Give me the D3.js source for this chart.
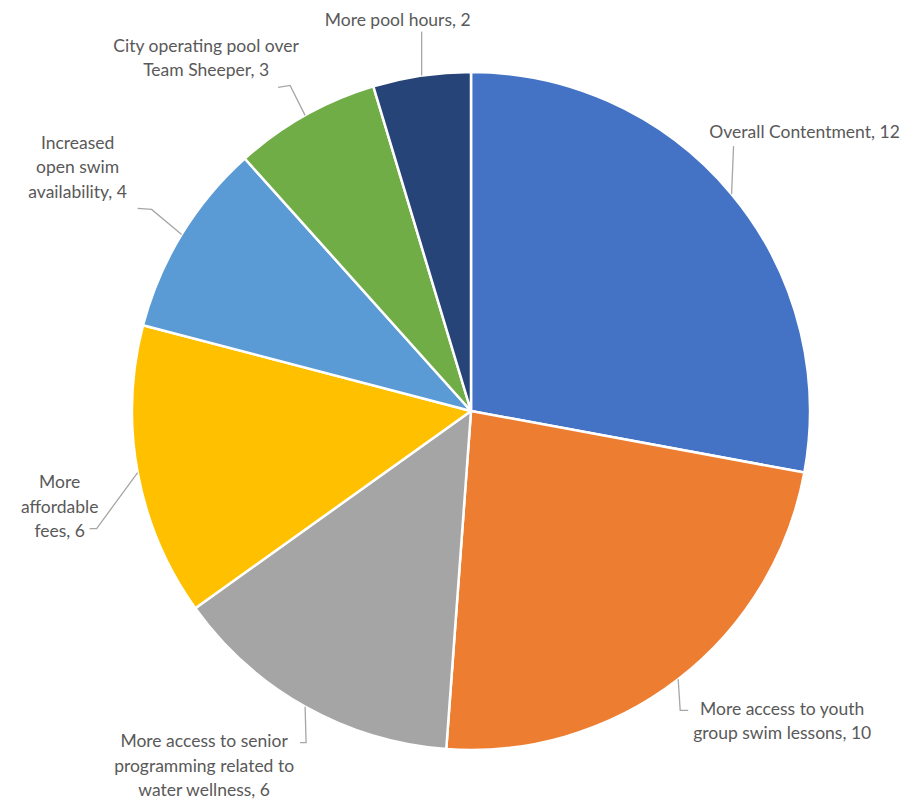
<!DOCTYPE html>
<html><head><meta charset="utf-8">
<script src="https://cdn.jsdelivr.net/npm/d3@7"></script>
<style>body{margin:0;background:#fff}svg{display:block}</style>
</head><body>
<svg id="chart" width="915" height="800"></svg>
<script>
const categories = ["Overall Contentment","More access to youth group swim lessons","More access to senior programming related to water wellness","More affordable fees","Increased open swim availability","City operating pool over Team Sheeper","More pool hours"];
const values = [12,10,6,6,4,3,2];
const colors = ["#4472C4","#ED7D31","#A5A5A5","#FFC000","#5B9BD5","#70AD47","#264478"];
// how each label wraps (lines of text, value appended to last line)
const labelLines = [
  ["Overall Contentment, 12"],
  ["More access to youth","group swim lessons, 10"],
  ["More access to senior","programming related to","water wellness, 6"],
  ["More","affordable","fees, 6"],
  ["Increased","open swim","availability, 4"],
  ["City operating pool over","Team Sheeper, 3"],
  ["More pool hours, 2"]
];
// label placement relative to the slice's outer mid point
const labelLayout = [
  {tx:73, ty:-63, leader:[[0,0],[2,-48]]},
  {tx:104, ty:29, leader:[[0,0],[2,31],[10,31]]},
  {tx:-101, ty:34, leader:[[0,0],[1,36],[-5,36]]},
  {tx:-78, ty:9, leader:[[0,0],[-41,56],[-48,56]]},
  {tx:-104, ty:-92, leader:[[0,0],[-30,-25],[-44,-26]]},
  {tx:-99, ty:-70, leader:[[0,0],[-15,-30],[-27,-28]]},
  {tx:-24, ty:-56, leader:[[0,0],[0,-44]]}
];

const svg = d3.select("#chart");
const cx = 471, cy = 411, R = 339;
const g = svg.append("g").attr("transform", `translate(${cx},${cy})`);
const data = categories.map((c,i)=>({name:c, value:values[i], i}));
const pie = d3.pie().value(d=>d.value).sort(null);
const arcs = pie(data);
const arc = d3.arc().innerRadius(0).outerRadius(R);

g.selectAll("path.slice").data(arcs).join("path")
  .attr("class","slice")
  .attr("d", arc)
  .attr("fill", d=>colors[d.data.i])
  .attr("stroke","#fff").attr("stroke-width",2.5).attr("stroke-linejoin","round");

const line = d3.line();
arcs.forEach(a=>{
  const mid = (a.startAngle + a.endAngle)/2;
  const ox = R*Math.sin(mid), oy = -R*Math.cos(mid);
  const L = labelLayout[a.data.i];
  g.append("path")
    .attr("d", line(L.leader.map(p=>[ox+p[0], oy+p[1]])))
    .attr("fill","none").attr("stroke","#A6A6A6").attr("stroke-width",1.3);
  const lines = labelLines[a.data.i];
  const t = g.append("text")
    .attr("text-anchor","middle")
    .attr("font-family","Lato, 'Open Sans', sans-serif")
    .attr("font-size",17.5)
    .attr("fill","#595959");
  lines.forEach((s,k)=>{
    t.append("tspan").attr("x", ox+L.tx).attr("y", oy+L.ty + k*24.5)
      .attr("dominant-baseline","central").text(s);
  });
});
</script>
</body></html>
